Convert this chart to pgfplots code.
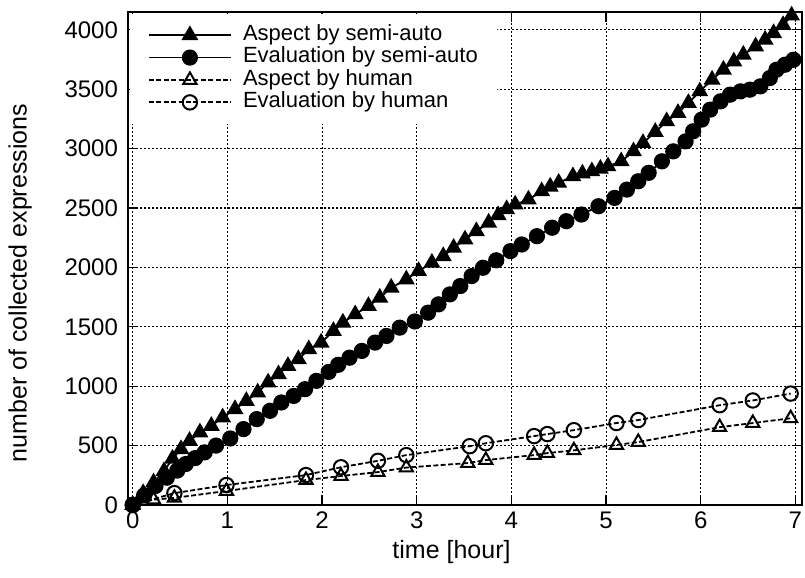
\documentclass[border=0pt]{standalone}
\usepackage{fontspec}
\setmainfont{Liberation Sans}
\usepackage{pgfplots}
\pgfplotsset{compat=1.18}

\begin{document}
\begin{tikzpicture}
\begin{axis}[
  width=337pt, height=246.5pt,
  scale only axis,
  xmin=-0.05, xmax=7.07,
  ymin=0, ymax=4150,
  xtick={0,1,...,7},
  ytick={0,500,...,4000},
  /pgf/number format/assume math mode=true,
  /pgf/number format/1000 sep={},
  scaled y ticks=false,
  tick label style={font=\fontsize{12}{12}\selectfont},
  yticklabel style={xshift=-1.5pt},
  major tick length=5pt,
  tick style={black, line width=0.6pt},
  axis line style={line width=1pt},
  grid=major,
  major grid style={black, line width=0.55pt, dash pattern=on 1pt off 1pt},
  xlabel={time [hour]},
  ylabel={number of collected expressions},
  label style={font=\fontsize{12.5}{12.5}\selectfont},
  xlabel style={at={(axis description cs:0.48,0)}, anchor=center, yshift=-23.5pt},
  ylabel style={at={(axis description cs:-0.16,0.45)}, anchor=center},
  legend cell align=left,
  legend style={at={(0,1)}, anchor=north west, xshift=0.8pt, yshift=-0.8pt,
    draw=none, fill=white,
    font=\fontsize{11}{11}\selectfont, inner xsep=9pt, inner ysep=5pt,
    row sep=0pt, column sep=5pt,
    nodes={inner sep=0.6pt, text height=7.6pt, text depth=2.4pt}},
  legend image code/.code={%
    \draw[mark repeat=2, mark phase=2] plot coordinates {(0pt,0pt) (20.5pt,0pt) (41pt,0pt)};},
]

% Aspect by semi-auto
\addplot[black, line width=0.9pt, mark=triangle*, mark size=4pt, mark options={solid, fill=black}] coordinates {
  (0.00,0) (0.11,100) (0.22,190) (0.33,285) (0.42,390) (0.51,470) (0.60,540)
  (0.71,611) (0.83,666) (0.95,737) (1.08,807) (1.20,876) (1.32,947) (1.43,1031)
  (1.54,1100) (1.64,1170) (1.75,1227) (1.86,1311) (1.99,1367) (2.12,1465)
  (2.22,1535) (2.35,1605) (2.49,1675) (2.61,1745) (2.73,1829) (2.89,1899)
  (3.02,1969) (3.16,2039) (3.28,2095) (3.39,2165) (3.51,2235) (3.63,2305)
  (3.76,2376) (3.86,2440) (3.95,2490) (4.04,2529) (4.18,2571) (4.32,2641)
  (4.41,2680) (4.50,2712) (4.65,2767) (4.75,2790) (4.85,2809) (4.94,2830)
  (5.02,2851) (5.16,2893) (5.29,2977) (5.39,3047) (5.52,3140) (5.64,3230)
  (5.76,3300) (5.87,3384) (5.99,3482) (6.12,3580) (6.24,3664) (6.35,3734)
  (6.45,3790) (6.58,3860) (6.68,3916) (6.77,3972) (6.87,4040) (6.96,4120)
};
\addlegendentry{Aspect by semi-auto}

% Evaluation by semi-auto
\addplot[black, line width=0.9pt, mark=*, mark size=3.6pt, mark options={solid, fill=black}] coordinates {
  (0.00,0) (0.12,80) (0.24,160) (0.36,230) (0.47,290) (0.56,345) (0.66,395)
  (0.76,443) (0.88,500) (1.03,560) (1.17,639) (1.31,723) (1.45,793) (1.57,863)
  (1.70,918) (1.82,975) (1.94,1045) (2.07,1120) (2.17,1180) (2.29,1240)
  (2.42,1297) (2.56,1367) (2.68,1423) (2.82,1493) (2.98,1545) (3.12,1619)
  (3.23,1689) (3.35,1773) (3.46,1843) (3.58,1927) (3.70,1997) (3.84,2060)
  (3.99,2137) (4.11,2193) (4.27,2263) (4.43,2334) (4.58,2389) (4.74,2445)
  (4.92,2515) (5.09,2585) (5.22,2655) (5.34,2725) (5.45,2796) (5.59,2893)
  (5.71,2977) (5.84,3061) (5.92,3146) (6.01,3244) (6.10,3328) (6.21,3398)
  (6.31,3454) (6.42,3482) (6.52,3496) (6.63,3524) (6.73,3594) (6.80,3664)
  (6.89,3706) (6.98,3748)
};
\addlegendentry{Evaluation by semi-auto\hspace{24pt}}

% Aspect by human
\addplot[black, line width=0.9pt, dash pattern=on 2.5pt off 1.2pt, mark=triangle, mark size=3.8pt, mark options={solid, line width=1pt}] coordinates {
  (0,0) (0.22,45) (0.44,60) (0.99,118) (1.83,210) (2.20,244) (2.59,277)
  (2.89,315) (3.54,353) (3.73,378) (4.24,420) (4.38,437) (4.66,460)
  (5.11,505) (5.34,530) (6.20,655) (6.55,690) (6.95,730)
};
\addlegendentry{Aspect by human}

% Evaluation by human
\addplot[black, line width=0.9pt, dash pattern=on 2.5pt off 1.2pt, mark=o, mark size=3.6pt, mark options={solid, line width=1pt}] coordinates {
  (0,0) (0.44,100) (0.99,168) (1.83,252) (2.20,318) (2.59,372) (2.89,420)
  (3.56,495) (3.73,520) (4.24,580) (4.38,597) (4.66,630) (5.11,690)
  (5.34,715) (6.20,840) (6.55,880) (6.95,938)
};
\addlegendentry{Evaluation by human}

\end{axis}
\pgfresetboundingbox
\path (current axis.south west) ++(-64pt,-36pt) rectangle ([shift={(1.5pt,6pt)}]current axis.north east);
\end{tikzpicture}
\end{document}
